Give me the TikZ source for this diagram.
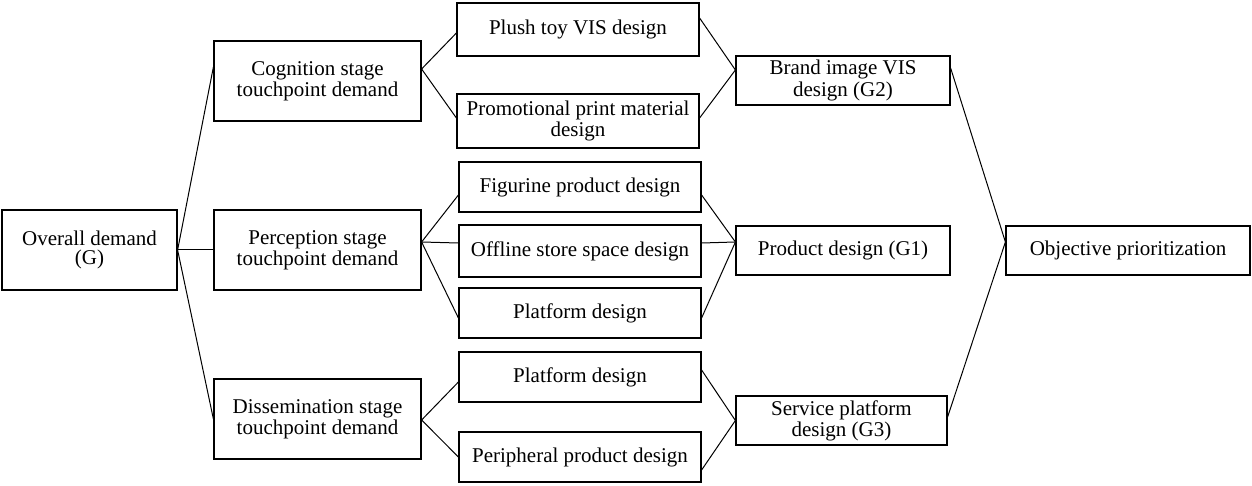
\documentclass[tikz,border=0pt]{standalone}
\usepackage{fontspec}
\setmainfont{Liberation Serif}
\begin{document}
\begin{tikzpicture}[x=0.5pt,y=-0.5pt,
  box/.style={draw, line width=0.6pt, inner sep=0pt, align=center,
    font={\fontsize{10.5}{9.1}\selectfont}},
  link/.style={line width=0.5pt}]
\useasboundingbox (0,0) rectangle (1252,486);
% level 1
\node[box, minimum width=87.5pt, minimum height=40pt] (A) at (89.5,250) {Overall demand\\(G)};
% level 2
\node[box, minimum width=103.5pt, minimum height=40pt] (cog) at (317.5,81) {Cognition stage\\touchpoint demand};
\node[box, minimum width=103.5pt, minimum height=40pt] (per) at (317.5,250) {Perception stage\\touchpoint demand};
\node[box, minimum width=103.5pt, minimum height=40pt] (dis) at (317.5,419) {Dissemination stage\\touchpoint demand};
% level 3
\node[box, minimum width=121pt, minimum height=26.5pt] (plush) at (578,29.5) {Plush toy VIS design};
\node[box, minimum width=121pt, minimum height=27pt] (promo) at (578,121) {Promotional print material\\design};
\node[box, minimum width=121pt, minimum height=25pt] (fig) at (580,187) {Figurine product design};
\node[box, minimum width=121pt, minimum height=26pt] (off) at (580,251) {Offline store space design};
\node[box, minimum width=121pt, minimum height=25pt] (plat1) at (580,313) {Platform design};
\node[box, minimum width=121pt, minimum height=25pt] (plat2) at (580,377) {Platform design};
\node[box, minimum width=121pt, minimum height=25pt] (peri) at (580,457) {Peripheral product design};
% level 4
\node[box, minimum width=107pt, minimum height=24.5pt] (brand) at (843,80.5) {Brand image VIS\\design (G2)};
\node[box, minimum width=107pt, minimum height=24.5pt] (prod) at (843,250.5) {Product design (G1)};
\node[box, minimum width=105.5pt, minimum height=24.5pt] (serv) at (841.5,420.5) {Service platform\\design (G3)};
% level 5
\node[box, minimum width=122pt, minimum height=24.5pt] (obj) at (1128,250.5) {Objective prioritization};
% connectors level 1 -> 2
\draw[link] (A.east) -- ([yshift=7pt]cog.west);
\draw[link] (A.east) -- (per.west);
\draw[link] (A.east) -- (dis.west);
% cognition
\draw[link] ([yshift=6pt]cog.east) -- ([yshift=-1.75pt]plush.west);
\draw[link] ([yshift=6pt]cog.east) -- ([yshift=1.5pt]promo.west);
\draw[link] ([yshift=5.75pt]plush.east) -- ([yshift=5.25pt]brand.west);
\draw[link] ([yshift=1.5pt]promo.east) -- ([yshift=5.25pt]brand.west);
% perception
\draw[link] ([yshift=4pt]per.east) -- ([yshift=-4pt]fig.west);
\draw[link] ([yshift=4pt]per.east) -- ([yshift=4pt]off.west);
\draw[link] ([yshift=4pt]per.east) -- ([yshift=-2.5pt]plat1.west);
\draw[link] ([yshift=-4pt]fig.east) -- ([yshift=4.25pt]prod.west);
\draw[link] ([yshift=4pt]off.east) -- ([yshift=4.25pt]prod.west);
\draw[link] ([yshift=-2.5pt]plat1.east) -- ([yshift=4.25pt]prod.west);
% dissemination
\draw[link] ([yshift=-0.5pt]dis.east) -- ([yshift=-2.5pt]plat2.west);
\draw[link] ([yshift=-0.5pt]dis.east) -- (peri.west);
\draw[link] ([yshift=3.5pt]plat2.east) -- (serv.west);
\draw[link] ([yshift=-6.5pt]peri.east) -- (serv.west);
% to objective
\draw[link] ([yshift=6.25pt]brand.east) -- ([yshift=4.25pt]obj.west);
\draw[link] ([yshift=1.75pt]serv.east) -- ([yshift=4.25pt]obj.west);
\end{tikzpicture}
\end{document}
